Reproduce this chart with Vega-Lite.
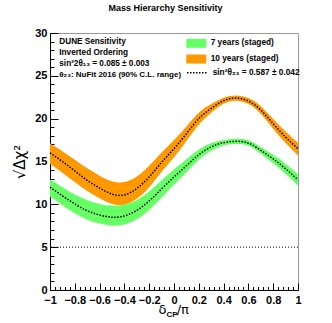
{
  "$schema": "https://vega.github.io/schema/vega-lite/v6.json",
  "width": 248,
  "height": 257,
  "autosize": {"type": "none"},
  "padding": {"left": 50, "top": 33, "right": 34, "bottom": 33},
  "background": "white",
  "title": {"text": "Mass Hierarchy Sensitivity", "fontSize": 9, "fontWeight": "bold", "font": "Liberation Sans", "frame": "group", "anchor": "middle", "baseline": "alphabetic", "offset": 7.5, "dx": -8.5, "color": "black"},
  "config": {
    "view": {"stroke": "#999999", "strokeWidth": 1},
    "font": "Liberation Sans",
    "axis": {"grid": false, "domainColor": "black", "tickColor": "black", "labelColor": "black", "labelFont": "Liberation Sans", "labelFontWeight": "bold", "labelFontSize": 11, "labelFlush": false, "labelOverlap": false}
  },
  "datasets": {
    "bands": [
      {"d": -1, "series": "10 years (staged)", "c": 16.0, "lo": 14.7, "hi": 17.1},
      {"d": -0.9, "series": "10 years (staged)", "c": 15.0, "lo": 13.7, "hi": 16.2},
      {"d": -0.8, "series": "10 years (staged)", "c": 13.9, "lo": 12.6, "hi": 15.2},
      {"d": -0.7, "series": "10 years (staged)", "c": 12.8, "lo": 11.55, "hi": 14.2},
      {"d": -0.6, "series": "10 years (staged)", "c": 11.9, "lo": 10.7, "hi": 13.35},
      {"d": -0.5, "series": "10 years (staged)", "c": 11.2, "lo": 10.05, "hi": 12.7},
      {"d": -0.4, "series": "10 years (staged)", "c": 11.1, "lo": 9.95, "hi": 12.6},
      {"d": -0.3, "series": "10 years (staged)", "c": 11.85, "lo": 10.65, "hi": 13.25},
      {"d": -0.2, "series": "10 years (staged)", "c": 13.2, "lo": 12.0, "hi": 14.5},
      {"d": -0.1, "series": "10 years (staged)", "c": 14.9, "lo": 13.8, "hi": 16.05},
      {"d": 0, "series": "10 years (staged)", "c": 16.5, "lo": 15.5, "hi": 17.5},
      {"d": 0.1, "series": "10 years (staged)", "c": 18.25, "lo": 17.4, "hi": 19.1},
      {"d": 0.2, "series": "10 years (staged)", "c": 20.0, "lo": 19.3, "hi": 20.7},
      {"d": 0.3, "series": "10 years (staged)", "c": 21.2, "lo": 20.7, "hi": 21.7},
      {"d": 0.4, "series": "10 years (staged)", "c": 22.1, "lo": 21.75, "hi": 22.45},
      {"d": 0.5, "series": "10 years (staged)", "c": 22.4, "lo": 22.1, "hi": 22.7},
      {"d": 0.6, "series": "10 years (staged)", "c": 22.05, "lo": 21.7, "hi": 22.4},
      {"d": 0.7, "series": "10 years (staged)", "c": 21.0, "lo": 20.55, "hi": 21.45},
      {"d": 0.8, "series": "10 years (staged)", "c": 19.4, "lo": 18.8, "hi": 19.95},
      {"d": 0.9, "series": "10 years (staged)", "c": 17.85, "lo": 17.15, "hi": 18.5},
      {"d": 1, "series": "10 years (staged)", "c": 16.5, "lo": 15.7, "hi": 17.2},
      {"d": -1, "series": "7 years (staged)", "c": 12.0, "lo": 10.9, "hi": 12.9},
      {"d": -0.9, "series": "7 years (staged)", "c": 11.0, "lo": 9.9, "hi": 12.0},
      {"d": -0.8, "series": "7 years (staged)", "c": 10.05, "lo": 8.95, "hi": 11.15},
      {"d": -0.7, "series": "7 years (staged)", "c": 9.25, "lo": 8.2, "hi": 10.5},
      {"d": -0.6, "series": "7 years (staged)", "c": 8.75, "lo": 7.75, "hi": 10.05},
      {"d": -0.5, "series": "7 years (staged)", "c": 8.5, "lo": 7.5, "hi": 9.85},
      {"d": -0.4, "series": "7 years (staged)", "c": 8.65, "lo": 7.65, "hi": 9.95},
      {"d": -0.3, "series": "7 years (staged)", "c": 9.3, "lo": 8.25, "hi": 10.5},
      {"d": -0.2, "series": "7 years (staged)", "c": 10.4, "lo": 9.35, "hi": 11.5},
      {"d": -0.1, "series": "7 years (staged)", "c": 11.8, "lo": 10.8, "hi": 12.8},
      {"d": 0, "series": "7 years (staged)", "c": 13.2, "lo": 12.3, "hi": 14.1},
      {"d": 0.1, "series": "7 years (staged)", "c": 14.5, "lo": 13.75, "hi": 15.25},
      {"d": 0.2, "series": "7 years (staged)", "c": 15.8, "lo": 15.2, "hi": 16.4},
      {"d": 0.3, "series": "7 years (staged)", "c": 16.7, "lo": 16.25, "hi": 17.15},
      {"d": 0.4, "series": "7 years (staged)", "c": 17.2, "lo": 16.88, "hi": 17.52},
      {"d": 0.5, "series": "7 years (staged)", "c": 17.35, "lo": 17.05, "hi": 17.65},
      {"d": 0.6, "series": "7 years (staged)", "c": 17.15, "lo": 16.83, "hi": 17.47},
      {"d": 0.7, "series": "7 years (staged)", "c": 16.3, "lo": 15.9, "hi": 16.7},
      {"d": 0.8, "series": "7 years (staged)", "c": 15.3, "lo": 14.8, "hi": 15.8},
      {"d": 0.9, "series": "7 years (staged)", "c": 14.15, "lo": 13.55, "hi": 14.75},
      {"d": 1, "series": "7 years (staged)", "c": 12.85, "lo": 12.2, "hi": 13.5}
    ]
  },
  "layer": [
    {
      "data": {"name": "bands"},
      "mark": {"type": "area", "interpolate": "natural", "opacity": 1},
      "encoding": {
        "x": {"field": "d", "type": "quantitative", "scale": {"domain": [-1, 1], "nice": false, "zero": false},
          "axis": {"orient": "bottom", "values": [-1, -0.8, -0.6, -0.4, -0.2, 0, 0.2, 0.4, 0.6, 0.8, 1], "format": "~g", "tickSize": -7, "labelPadding": 11, "title": null}},
        "y": {"field": "lo", "type": "quantitative", "scale": {"domain": [0, 30], "nice": false},
          "axis": {"orient": "left", "values": [0, 5, 10, 15, 20, 25, 30], "format": "d", "tickSize": -8, "labelPadding": 11, "title": "√Δχ²", "titleFont": "DejaVu Sans", "titleFontSize": 15, "titleFontWeight": "normal", "titleColor": "black", "titleX": -31, "titleY": 128.5, "titleAngle": 270, "titleAlign": "center", "titleBaseline": "middle"}},
        "y2": {"field": "hi"},
        "color": {"field": "series", "type": "nominal",
          "scale": {"domain": ["7 years (staged)", "10 years (staged)"], "range": ["#66ff66", "#ff9900"]},
          "legend": {"title": null, "orient": "none", "legendX": 141.8, "legendY": 5.8, "symbolType": "M-2.22,-1H2.22V1H-2.22Z", "symbolSize": 81, "symbolStrokeWidth": 0, "symbolOpacity": 1, "labelFontSize": 8.3, "labelFontWeight": "bold", "labelFont": "Liberation Sans", "labelColor": "black", "labelOffset": 9.9, "rowPadding": 5.7, "padding": 0}}
      }
    },
    {
      "data": {"name": "bands"},
      "mark": {"type": "line", "interpolate": "natural", "color": "black", "strokeWidth": 1.5},
      "encoding": {
        "x": {"field": "d", "type": "quantitative",
          "axis": {"orient": "bottom", "values": [-1, -0.96, -0.92, -0.88, -0.84, -0.8, -0.76, -0.72, -0.68, -0.64, -0.6, -0.56, -0.52, -0.48, -0.44, -0.4, -0.36, -0.32, -0.28, -0.24, -0.2, -0.16, -0.12, -0.08, -0.04, 0, 0.04, 0.08, 0.12, 0.16, 0.2, 0.24, 0.28, 0.32, 0.36, 0.4, 0.44, 0.48, 0.52, 0.56, 0.6, 0.64, 0.68, 0.72, 0.76, 0.8, 0.84, 0.88, 0.92, 0.96, 1], "labels": false, "domain": false, "tickSize": -3.5, "title": null}},
        "y": {"field": "c", "type": "quantitative",
          "axis": {"orient": "left", "values": [0, 1, 2, 3, 4, 5, 6, 7, 8, 9, 10, 11, 12, 13, 14, 15, 16, 17, 18, 19, 20, 21, 22, 23, 24, 25, 26, 27, 28, 29, 30], "labels": false, "domain": false, "tickSize": -4, "title": null}},
        "detail": {"field": "series"},
        "strokeDash": {"datum": "sin²θ₂₃ = 0.587 ± 0.042", "scale": {"range": [[1.5, 1.5]]},
          "legend": {"title": null, "orient": "none", "legendX": 136, "legendY": 28.7, "symbolType": "stroke", "symbolSize": 400, "symbolStrokeColor": "black", "symbolStrokeWidth": 1.5, "labelFontSize": 8.3, "labelFontWeight": "bold", "labelFont": "Liberation Sans", "labelColor": "black", "labelOffset": 4.7, "padding": 0}}
      }
    },
    {
      "data": {"values": [{"level": 5}]},
      "mark": {"type": "rule", "strokeDash": [1, 2], "color": "black", "strokeWidth": 1},
      "encoding": {"y": {"field": "level", "type": "quantitative", "axis": null}}
    },
    {
      "data": {"values": [{"txt": "DUNE Sensitivity\nInverted Ordering\nsin²2θ₁₃ = 0.085 ± 0.003"}]},
      "mark": {"type": "text", "lineBreak": "\n", "lineHeight": 11.3, "align": "left", "baseline": "alphabetic", "fontSize": 8.2, "fontWeight": "bold", "font": "Liberation Sans", "color": "black"},
      "encoding": {"x": {"datum": -0.925, "axis": null}, "y": {"datum": 28.75, "axis": null}, "text": {"field": "txt"}}
    },
    {
      "data": {"values": [{"txt": "θ₂₃: NuFit 2016 (90% C.L. range)"}]},
      "mark": {"type": "text", "align": "left", "baseline": "alphabetic", "fontSize": 8, "fontWeight": "bold", "font": "Liberation Sans", "color": "black"},
      "encoding": {"x": {"datum": -0.925, "axis": null}, "y": {"datum": 24.9, "axis": null}, "text": {"field": "txt"}}
    },
    {
      "data": {"values": [{"t": "δ"}]},
      "mark": {"type": "text", "align": "right", "baseline": "alphabetic", "fontSize": 13, "font": "DejaVu Sans", "dx": -7.5, "color": "black"},
      "encoding": {"x": {"datum": 0, "axis": null}, "y": {"datum": -2.8, "axis": null}, "text": {"field": "t"}}
    },
    {
      "data": {"values": [{"t": "CP"}]},
      "mark": {"type": "text", "align": "left", "baseline": "alphabetic", "fontSize": 8, "fontWeight": "bold", "font": "Liberation Sans", "dx": -7.5, "dy": 3, "color": "black"},
      "encoding": {"x": {"datum": 0, "axis": null}, "y": {"datum": -2.8, "axis": null}, "text": {"field": "t"}}
    },
    {
      "data": {"values": [{"t": "/π"}]},
      "mark": {"type": "text", "align": "left", "baseline": "alphabetic", "fontSize": 13, "font": "DejaVu Sans", "dx": 2.7, "color": "black"},
      "encoding": {"x": {"datum": 0, "axis": null}, "y": {"datum": -2.8, "axis": null}, "text": {"field": "t"}}
    }
  ],
  "resolve": {"axis": {"x": "independent", "y": "independent"}}
}
